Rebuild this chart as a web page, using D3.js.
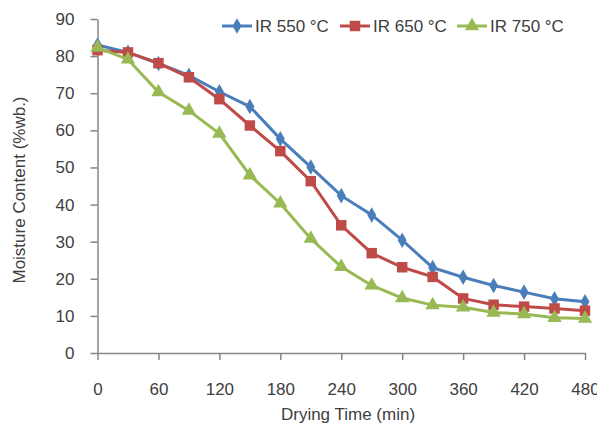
<!DOCTYPE html>
<html>
<head>
<meta charset="UTF-8">
<script src="https://d3js.org/d3.v7.min.js"></script>
<style>
  body { margin: 0; background: #fff; }
  text { font-family: "Liberation Sans", Arial, sans-serif; fill: #404040; }
</style>
</head>
<body>
<div id="chart"></div>
<script>
const times = [0, 30, 60, 90, 120, 150, 180, 210, 240, 270, 300, 330, 360, 390, 420, 450, 480];
const ir550 = [83.0, 81.0, 78.0, 74.8, 70.4, 66.4, 57.7, 50.1, 42.4, 37.2, 30.4, 23.0, 20.4, 18.2, 16.4, 14.6, 13.8];
const ir650 = [81.6, 81.0, 78.1, 74.3, 68.4, 61.3, 54.4, 46.3, 34.4, 26.9, 23.1, 20.5, 14.7, 13.0, 12.5, 12.0, 11.4];
const ir750 = [82.3, 79.1, 70.3, 65.3, 59.1, 47.9, 40.3, 30.8, 23.2, 18.2, 14.8, 12.9, 12.3, 10.9, 10.5, 9.5, 9.3];
const xTicks = [0, 60, 120, 180, 240, 300, 360, 420, 480];
const yTicks = [0, 10, 20, 30, 40, 50, 60, 70, 80, 90];

const series = [
  {name: "IR 550 °C", values: ir550, color: "#4a7ebb", shape: d3.symbolDiamond, size: 70},
  {name: "IR 650 °C", values: ir650, color: "#be4b48", shape: d3.symbolSquare, size: 110},
  {name: "IR 750 °C", values: ir750, color: "#98b954", shape: d3.symbolTriangle, size: 90}
];

const W = 597, H = 429;
const svg = d3.select("#chart").append("svg").attr("width", W).attr("height", H);

const x = d3.scaleLinear().domain([0, 480]).range([97.5, 585]);
const y = d3.scaleLinear().domain([0, 90]).range([353, 19]);

const axisColor = "#868686";

// y axis
const ya = svg.append("g").attr("transform", `translate(${x(0)},0)`)
  .call(d3.axisLeft(y).tickValues(yTicks).tickSize(7).tickSizeOuter(0).tickPadding(16));
ya.select(".domain").attr("stroke", axisColor).attr("stroke-width", 1.5);
ya.selectAll(".tick line").attr("stroke", axisColor).attr("stroke-width", 1.5);
ya.selectAll(".tick text").style("font-size", "17px").attr("fill", "#404040");

// x axis
const xa = svg.append("g").attr("transform", `translate(0,${y(0)})`)
  .call(d3.axisBottom(x).tickValues(xTicks).tickSize(7).tickSizeOuter(0).tickPadding(23));
xa.select(".domain").attr("stroke", axisColor).attr("stroke-width", 1.5);
xa.selectAll(".tick line").attr("stroke", axisColor).attr("stroke-width", 1.5);
xa.selectAll(".tick text").style("font-size", "17px").attr("fill", "#404040");

// axis titles
svg.append("text").attr("x", 348).attr("y", 420).attr("text-anchor", "middle")
  .style("font-size", "17px").text("Drying Time (min)");
svg.append("text").attr("transform", "translate(25,190) rotate(-90)").attr("text-anchor", "middle")
  .style("font-size", "17px").text("Moisture Content (%wb.)");

const line = d3.line().x((d, i) => x(times[i])).y(d => y(d));

series.forEach(s => {
  svg.append("path").datum(s.values).attr("d", line)
    .attr("fill", "none").attr("stroke", s.color).attr("stroke-width", 3);
  svg.append("g").selectAll("path").data(s.values).join("path")
    .attr("d", d3.symbol().type(s.shape).size(s.size))
    .attr("transform", (d, i) => `translate(${x(times[i])},${y(d)})`)
    .attr("fill", s.color);
});

// legend
const legendX = [222, 340, 457];
series.forEach((s, i) => {
  const g = svg.append("g").attr("transform", `translate(${legendX[i]},26)`);
  g.append("line").attr("x1", 0).attr("x2", 30).attr("stroke", s.color).attr("stroke-width", 3);
  g.append("path").attr("d", d3.symbol().type(s.shape).size(s.size)).attr("transform", "translate(15,0)").attr("fill", s.color);
  g.append("text").attr("x", 33).attr("y", 6).style("font-size", "17px").text(s.name);
});
</script>
</body>
</html>
